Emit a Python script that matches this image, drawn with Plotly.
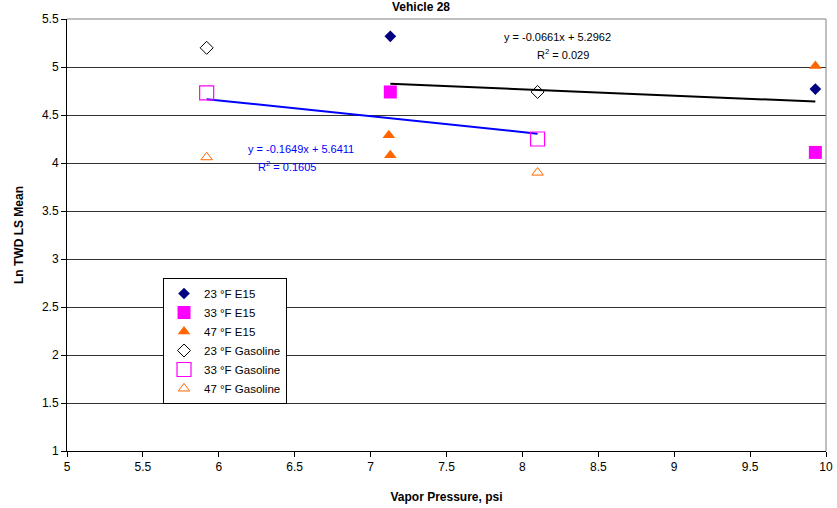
import plotly.graph_objects as go

# Data
e15_23_x = [7.13, 9.93]
e15_23_y = [5.32, 4.77]
e15_33_x = [7.13, 9.93]
e15_33_y = [4.74, 4.11]
e15_47_x = [7.12, 7.13, 9.93]
e15_47_y = [4.29, 4.08, 5.01]
gas_23_x = [5.92, 8.10]
gas_23_y = [5.20, 4.74]
gas_33_x = [5.92, 8.10]
gas_33_y = [4.73, 4.25]
gas_47_x = [5.92, 8.10]
gas_47_y = [4.06, 3.90]

# Trendlines (equations as displayed on the chart)
trend_black_slope, trend_black_int = -0.0661, 5.2962
trend_black_x = [7.13, 9.93]
trend_blue_slope, trend_blue_int = -0.1649, 5.6411
trend_blue_x = [5.92, 8.10]

x_ticks = [5, 5.5, 6, 6.5, 7, 7.5, 8, 8.5, 9, 9.5, 10]
y_ticks = [1, 1.5, 2, 2.5, 3, 3.5, 4, 4.5, 5, 5.5]

fig = go.Figure()

fig.add_trace(go.Scatter(
    x=trend_black_x, y=[trend_black_slope * v + trend_black_int for v in trend_black_x],
    mode="lines", line=dict(color="black", width=2), showlegend=False, hoverinfo="skip"))
fig.add_trace(go.Scatter(
    x=trend_blue_x, y=[trend_blue_slope * v + trend_blue_int for v in trend_blue_x],
    mode="lines", line=dict(color="#0000FF", width=2), showlegend=False, hoverinfo="skip"))

fig.add_trace(go.Scatter(x=e15_23_x, y=e15_23_y, mode="markers", name="23 °F E15",
                         marker=dict(symbol="diamond", size=9, color="#000080")))
fig.add_trace(go.Scatter(x=e15_33_x, y=e15_33_y, mode="markers", name="33 °F E15",
                         marker=dict(symbol="square", size=13, color="#FF00FF")))
fig.add_trace(go.Scatter(x=e15_47_x, y=e15_47_y, mode="markers", name="47 °F E15",
                         marker=dict(symbol="triangle-up", size=11, color="#FF6600")))
fig.add_trace(go.Scatter(x=gas_23_x, y=gas_23_y, mode="markers", name="23 °F Gasoline",
                         marker=dict(symbol="diamond-open", size=10, color="black", line=dict(width=1))))
fig.add_trace(go.Scatter(x=gas_33_x, y=gas_33_y, mode="markers", name="33 °F Gasoline",
                         marker=dict(symbol="square-open", size=14, color="#FF00FF", line=dict(width=1.2))))
fig.add_trace(go.Scatter(x=gas_47_x, y=gas_47_y, mode="markers", name="47 °F Gasoline",
                         marker=dict(symbol="triangle-up-open", size=10, color="#FF6600", line=dict(width=1))))

ann_font = dict(family="Arial, Liberation Sans", size=11)
fig.add_annotation(x=8.23, y=5.31, text="y = -0.0661x + 5.2962", showarrow=False,
                   font=dict(color="black", **ann_font), xanchor="center")
fig.add_annotation(x=8.27, y=5.135, text="R<sup>2</sup> = 0.029", showarrow=False,
                   font=dict(color="black", **ann_font), xanchor="center")
fig.add_annotation(x=6.54, y=4.146, text="y = -0.1649x + 5.6411", showarrow=False,
                   font=dict(color="#0000FF", **ann_font), xanchor="center")
fig.add_annotation(x=6.45, y=3.97, text="R<sup>2</sup> = 0.1605", showarrow=False,
                   font=dict(color="#0000FF", **ann_font), xanchor="center")

fig.update_layout(
    width=837, height=508,
    margin=dict(l=67, r=11, t=19, b=57, autoexpand=False),
    paper_bgcolor="white", plot_bgcolor="white",
    font=dict(family="Arial, Liberation Sans", size=12, color="black"),
    title=dict(text="<b>Vehicle 28</b>", x=0.503, xanchor="center", y=0.987, yanchor="middle",
               font=dict(size=12)),
    xaxis=dict(range=[5, 10], tickvals=x_ticks, ticktext=[str(v) for v in x_ticks],
               showgrid=False, zeroline=False, showline=True, linecolor="black", linewidth=1,
               ticks="outside", ticklen=5, tickcolor="black", mirror=False, automargin=False,
               title=dict(text="<b>Vapor Pressure, psi</b>", font=dict(size=12), standoff=19)),
    yaxis=dict(range=[1, 5.5], tickvals=y_ticks, ticktext=[str(v) for v in y_ticks],
               showgrid=True, gridcolor="#303030", gridwidth=1, zeroline=False,
               showline=True, linecolor="black", linewidth=1, automargin=False,
               ticks="outside", ticklen=5, tickcolor="black",
               title=dict(text="<b>Ln TWD LS Mean</b>", font=dict(size=12), standoff=15)),
    legend=dict(x=0.1265, y=0.4005, xanchor="left", yanchor="top",
                bordercolor="black", borderwidth=1, bgcolor="white",
                font=dict(size=11.5), itemwidth=30, tracegroupgap=0),
    shapes=[dict(type="line", xref="paper", yref="paper", x0=0, x1=1, y0=1, y1=1,
                 line=dict(color="#808080", width=1)),
            dict(type="line", xref="paper", yref="paper", x0=1, x1=1, y0=0, y1=1,
                 line=dict(color="#808080", width=1))],
)

fig.write_html("out.html", config={"displayModeBar": False},
               post_script="document.body.style.margin='0';document.body.style.padding='0';")
